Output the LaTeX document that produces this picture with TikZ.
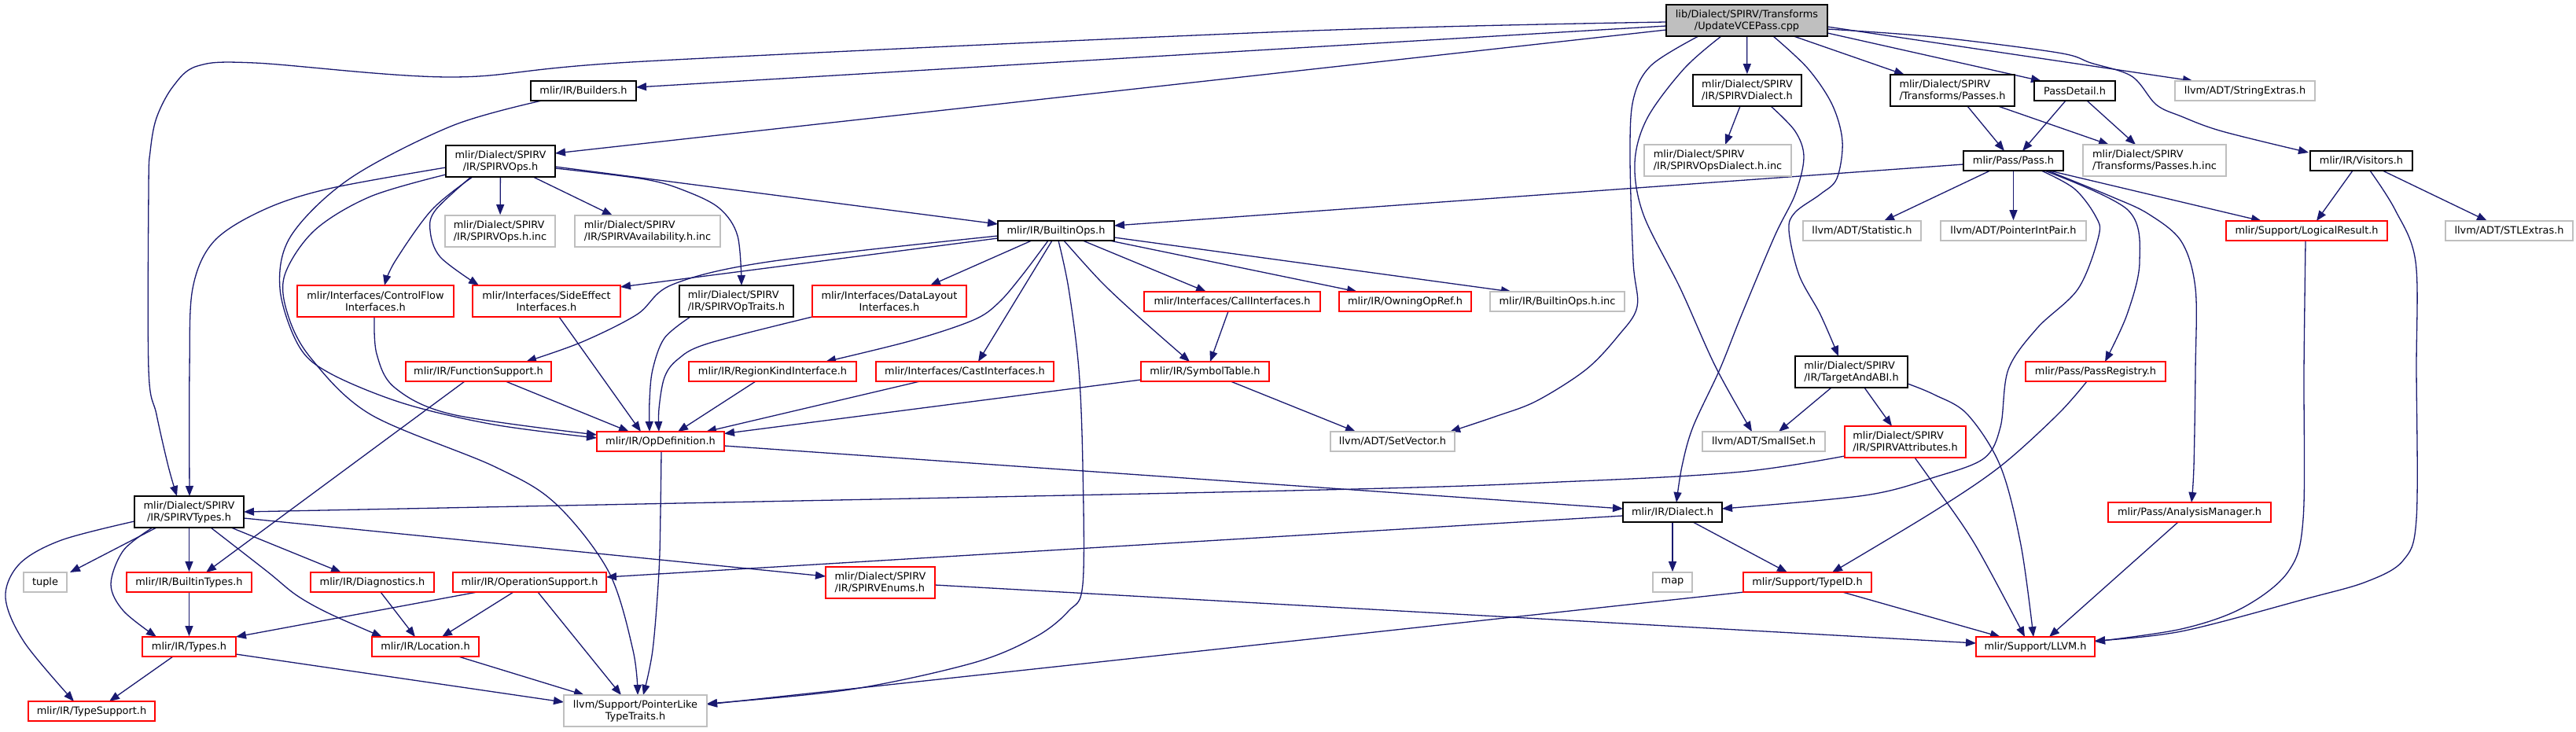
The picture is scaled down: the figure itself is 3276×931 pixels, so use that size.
\documentclass[tikz,border=0pt]{standalone}
\usepackage{fontspec}
\setmainfont{DejaVu Sans}
\usetikzlibrary{arrows.meta,calc}
\definecolor{edgec}{HTML}{191970}
\definecolor{boxred}{HTML}{FF0000}
\definecolor{boxgray}{HTML}{BFBFBF}
\pgfdeclarelayer{back}
\pgfdeclarelayer{edges}
\pgfsetlayers{back,edges,main}
\begin{document}
\begin{tikzpicture}[x=1pt,y=-1pt,
  box/.style={line width=1.7pt, inner sep=0pt, font=\fontsize{12.9}{15}\selectfont, text=black},
  nb/.style={box, draw=black, fill=white},
  nr/.style={box, draw=boxred, fill=white},
  ng/.style={box, draw=boxgray, fill=white},
  nroot/.style={box, draw=black, fill=boxgray},
  sz/.style 2 args={minimum width=#1pt, minimum height=#2pt},
  edge/.style={draw=edgec, line width=1.3pt, -{Triangle[length=13pt,width=10pt]}},
  sm/.style={smooth, tension=0.55}
]
\begin{pgfonlayer}{back}
\fill[white] (0,0) rectangle (3276,931);
\end{pgfonlayer}
\useasboundingbox (0,0) rectangle (3276,931);

% nodes
\node[nroot,sz={205}{40},align=center] (root) at (2221.5,26) {lib/Dialect/SPIRV/Transforms\\/UpdateVCEPass.cpp};
\node[nb,sz={134}{25}] (builders) at (742,115.5) {mlir/IR/Builders.h};
\node[nb,sz={139}{40},align=center] (spirvops) at (636.5,205) {mlir/Dialect/SPIRV\\/IR/SPIRVOps.h};
\node[ng,sz={140}{40},align=left] (opsinc) at (636,294) {mlir/Dialect/SPIRV\\/IR/SPIRVOps.h.inc};
\node[ng,sz={185}{40},align=left] (avail) at (823.5,294) {mlir/Dialect/SPIRV\\/IR/SPIRVAvailability.h.inc};
\node[nr,sz={199}{40},align=center] (controlflow) at (477.5,383) {mlir/Interfaces/ControlFlow\\Interfaces.h};
\node[nr,sz={188}{40},align=center] (sideeffect) at (695,383) {mlir/Interfaces/SideEffect\\Interfaces.h};
\node[nr,sz={185}{25}] (funcsupport) at (608.5,472.5) {mlir/IR/FunctionSupport.h};
\node[nb,sz={148}{25}] (builtinops) at (1343,293.5) {mlir/IR/BuiltinOps.h};
\node[nb,sz={145}{40},align=left] (optraits) at (936.5,383) {mlir/Dialect/SPIRV\\/IR/SPIRVOpTraits.h};
\node[nr,sz={196}{40},align=center] (datalayout) at (1131,383) {mlir/Interfaces/DataLayout\\Interfaces.h};
\node[nr,sz={224}{25}] (callif) at (1567,383.5) {mlir/Interfaces/CallInterfaces.h};
\node[nr,sz={213}{25}] (regionkind) at (982.5,472.5) {mlir/IR/RegionKindInterface.h};
\node[nr,sz={226}{25}] (castif) at (1227,472.5) {mlir/Interfaces/CastInterfaces.h};
\node[nr,sz={163}{25}] (symtab) at (1532.5,472.5) {mlir/IR/SymbolTable.h};
\node[nr,sz={162}{25}] (opdef) at (840,561.5) {mlir/IR/OpDefinition.h};
\node[nb,sz={138}{40},align=left] (spirvdialect) at (2222,115) {mlir/Dialect/SPIRV\\/IR/SPIRVDialect.h};
\node[ng,sz={187}{40},align=left] (opsdialectinc) at (2184.5,204) {mlir/Dialect/SPIRV\\/IR/SPIRVOpsDialect.h.inc};
\node[nb,sz={158}{40},align=left] (passes) at (2483,115) {mlir/Dialect/SPIRV\\/Transforms/Passes.h};
\node[nr,sz={168}{25}] (owning) at (1787,383.5) {mlir/IR/OwningOpRef.h};
\node[ng,sz={171}{25}] (builtinopsinc) at (1980.5,383.5) {mlir/IR/BuiltinOps.h.inc};
\node[ng,sz={150}{25}] (statistic) at (2368,293.5) {llvm/ADT/Statistic.h};
\node[nb,sz={143}{40},align=left] (targetabi) at (2354.5,473) {mlir/Dialect/SPIRV\\/IR/TargetAndABI.h};
\node[nb,sz={103}{25}] (passdetail) at (2638.5,115.5) {PassDetail.h};
\node[ng,sz={178}{25}] (stringextras) at (2855,115.5) {llvm/ADT/StringExtras.h};
\node[nb,sz={127}{25}] (pass) at (2560.5,204.5) {mlir/Pass/Pass.h};
\node[ng,sz={182}{40},align=left] (passesinc) at (2740,204) {mlir/Dialect/SPIRV\\/Transforms/Passes.h.inc};
\node[nb,sz={130}{25}] (visitors) at (3003,204.5) {mlir/IR/Visitors.h};
\node[ng,sz={185}{25}] (ptrintpair) at (2560.5,293.5) {llvm/ADT/PointerIntPair.h};
\node[nr,sz={205}{25}] (logicalresult) at (2933.5,293.5) {mlir/Support/LogicalResult.h};
\node[ng,sz={162}{25}] (stlextras) at (3191,293.5) {llvm/ADT/STLExtras.h};
\node[nr,sz={178}{25}] (passregistry) at (2665,472.5) {mlir/Pass/PassRegistry.h};
\node[nb,sz={139}{40},align=center] (spirvtypes) at (240.5,651) {mlir/Dialect/SPIRV\\/IR/SPIRVTypes.h};
\node[ng,sz={55}{25}] (tuple) at (57.5,740.5) {tuple};
\node[nr,sz={159}{25}] (builtintypes) at (240.5,740.5) {mlir/IR/BuiltinTypes.h};
\node[nr,sz={157}{25}] (diagnostics) at (473.5,740.5) {mlir/IR/Diagnostics.h};
\node[nr,sz={195}{25}] (opsupport) at (673.5,740.5) {mlir/IR/OperationSupport.h};
\node[nr,sz={119}{25}] (types) at (240.5,822.5) {mlir/IR/Types.h};
\node[nr,sz={136}{25}] (location) at (541,822.5) {mlir/IR/Location.h};
\node[nr,sz={161}{25}] (typesupport) at (116.5,904.5) {mlir/IR/TypeSupport.h};
\node[ng,sz={182}{40},align=center] (pointerlike) at (808,904) {llvm/Support/PointerLike\\TypeTraits.h};
\node[nr,sz={139}{40},align=left] (spirvenums) at (1119.5,741) {mlir/Dialect/SPIRV\\/IR/SPIRVEnums.h};
\node[ng,sz={158}{25}] (setvector) at (1771,561.5) {llvm/ADT/SetVector.h};
\node[ng,sz={156}{25}] (smallset) at (2243,561.5) {llvm/ADT/SmallSet.h};
\node[nr,sz={154}{40},align=left] (spirvattr) at (2423,562) {mlir/Dialect/SPIRV\\/IR/SPIRVAttributes.h};
\node[nb,sz={126}{25}] (dialect) at (2127,651.5) {mlir/IR/Dialect.h};
\node[ng,sz={50}{25}] (map) at (2127,740.5) {map};
\node[nr,sz={163}{25}] (typeid) at (2298.5,740.5) {mlir/Support/TypeID.h};
\node[nr,sz={207}{25}] (analysis) at (2784.5,651.5) {mlir/Pass/AnalysisManager.h};
\node[nr,sz={151}{25}] (llvm) at (2588.5,822.5) {mlir/Support/LLVM.h};

\begin{pgfonlayer}{edges}
% root
\draw[edge] plot[sm] coordinates {($(root)+(-102.5,2)$) (1640,40) (820,78) (575,98) (324,80) (251,84) (220,110) (199,150) (191,193) (189,240) (189,470) (199,527) (214,593) ($(spirvtypes)+(-15.5,-20)$)};
\draw[edge] ($(root)+(-102.5,7)$) -- ($(builders)+(67,-4.5)$);
\draw[edge] ($(root)+(-102.5,12)$) -- ($(spirvops)+(69.5,-10)$);
\draw[edge] (root) -- (spirvdialect);
\draw[edge] ($(root)+(59.5,20)$) -- ($(passes)+(-61,-20)$);
\draw[edge] ($(root)+(102.5,16)$) -- ($(passdetail)+(-42.5,-12.5)$);
\draw[edge] ($(root)+(102.5,8)$) -- ($(stringextras)+(-66,-12.5)$);
\draw[edge] plot[sm] coordinates {($(root)+(102.5,11)$) (2460,47) (2617,67) (2659,80) (2711,97) (2742,133) (2774,148) (2826,167) ($(visitors)+(-67,-10.5)$)};
\draw[edge] plot[sm] coordinates {($(root)+(-61.5,20)$) (2100,83) (2077,127) (2073,200) (2077,333) (2082,390) (2058,427) (2017,470) (1954,510) (1901,530) ($(setvector)+(73,-12.5)$)};
\draw[edge] plot[sm] coordinates {($(root)+(-32.5,20)$) (2142,87) (2095,150) (2079,207) (2090,273) (2137,367) (2182,467) ($(smallset)+(-15,-12.5)$)};
\draw[edge] plot[sm] coordinates {($(root)+(33.5,20)$) (2299,87) (2330,133) (2343,180) (2336,227) (2315,247) (2283,270) (2275,293) (2288,350) (2315,400) ($(targetabi)+(-16.5,-20)$)};
% spirvdialect
\draw[edge] ($(spirvdialect)+(-9,20)$) -- ($(opsdialectinc)+(9.5,-20)$);
\draw[edge] plot[sm] coordinates {($(spirvdialect)+(30,20)$) (2283,167) (2294,200) (2283,247) (2257,300) (2215,400) (2187,470) (2153,543) (2139,593) ($(dialect)+(5,-12.5)$)};
% passes, passdetail
\draw[edge] ($(passes)+(19,20)$) -- ($(pass)+(-11.5,-12.5)$);
\draw[edge] ($(passes)+(58,20)$) -- ($(passesinc)+(-58,-20)$);
\draw[edge] ($(passdetail)+(-11.5,12.5)$) -- ($(pass)+(11.5,-12.5)$);
\draw[edge] ($(passdetail)+(15.5,12.5)$) -- ($(passesinc)+(-24,-20)$);
% pass
\draw[edge] ($(pass)+(-63.5,4.5)$) -- ($(builtinops)+(74,-6.5)$);
\draw[edge] ($(pass)+(-29.5,12.5)$) -- ($(statistic)+(28,-12.5)$);
\draw[edge] (pass) -- (ptrintpair);
\draw[edge] ($(pass)+(45.5,12.5)$) -- ($(logicalresult)+(-57.5,-12.5)$);
\draw[edge] plot[sm] coordinates {($(pass)+(35.5,12.5)$) (2638,240) (2665,275) (2669,300) (2643,367) (2591,417) (2554,470) (2544,543) (2523,583) (2460,607) (2372,630) ($(dialect)+(63,-4.5)$)};
\draw[edge] plot[sm] coordinates {($(pass)+(39.5,12.5)$) (2706,267) (2721,333) (2705,400) ($(passregistry)+(12,-12.5)$)};
\draw[edge] plot[sm] coordinates {($(pass)+(43.5,12.5)$) (2685,250) (2732,272) (2774,307) (2792,367) (2792,470) (2790,593) ($(analysis)+(2.5,-12.5)$)};
% visitors, logicalresult
\draw[edge] ($(visitors)+(-11,12.5)$) -- ($(logicalresult)+(12.5,-12.5)$);
\draw[edge] ($(visitors)+(27,12.5)$) -- ($(stlextras)+(-28,-12.5)$);
\draw[edge] plot[sm] coordinates {($(visitors)+(11,12.5)$) (3046,267) (3072,333) (3073,470) (3073,660) (3056,713) (3009,740) (2931,762) (2774,803) ($(llvm)+(75.5,-7.5)$)};
\draw[edge] plot[sm] coordinates {($(logicalresult)+(-1.5,12.5)$) (2930,470) (2929,660) (2910,727) (2852,773) (2774,800) ($(llvm)+(75.5,-6.5)$)};
% passregistry, analysis
\draw[edge] plot[sm] coordinates {($(passregistry)+(-11,12.5)$) (2617,527) (2544,593) (2460,650) ($(typeid)+(31.5,-12.5)$)};
\draw[edge] ($(analysis)+(-14.5,12.5)$) -- ($(llvm)+(17.5,-12.5)$);
% targetabi, spirvattr
\draw[edge] ($(targetabi)+(-25.5,20)$) -- ($(smallset)+(19,-12.5)$);
\draw[edge] ($(targetabi)+(16.5,20)$) -- ($(spirvattr)+(-17,-20)$);
\draw[edge] plot[sm] coordinates {($(targetabi)+(71.5,15)$) (2460,502) (2502,527) (2544,593) (2570,693) ($(llvm)+(-2.5,-12.5)$)};
\draw[edge] plot[sm] coordinates {($(spirvattr)+(12,20)$) (2460,617) (2512,693) ($(llvm)+(-13.5,-12.5)$)};
\draw[edge] plot[sm] coordinates {($(spirvattr)+(-77,18)$) (2215,600) (2006,612) (1640,624) ($(spirvtypes)+(69.5,0)$)};
% dialect
\draw[edge] (dialect) -- (map);
\draw[edge] ($(dialect)+(26,12.5)$) -- ($(typeid)+(-25.5,-12.5)$);
\draw[edge] ($(dialect)+(-63,4.5)$) -- ($(opsupport)+(97.5,-6.5)$);
% opdef
\draw[edge] ($(opdef)+(81,5.5)$) -- ($(dialect)+(-63,-4.5)$);
\draw[edge] plot[sm] coordinates {($(opdef)+(1,12.5)$) (840,650) (838,727) (830,827) ($(pointerlike)+(10,-20)$)};
% typeid, spirvenums
\draw[edge] ($(typeid)+(44.5,12.5)$) -- ($(llvm)+(-44.5,-12.5)$);
\draw[edge] ($(typeid)+(-80.5,12.5)$) -- ($(pointerlike)+(91,-8)$);
\draw[edge] ($(spirvenums)+(69.5,3)$) -- ($(llvm)+(-75.5,-4.5)$);
% builtinops
\draw[edge] plot[sm] coordinates {($(builtinops)+(3,12.5)$) (1359,367) (1372,470) (1377,593) (1377,743) (1359,777) (1317,810) (1238,843) (1081,877) ($(pointerlike)+(91,-9)$)};
\draw[edge] ($(builtinops)+(34,12.5)$) -- ($(callif)+(-33,-12.5)$);
\draw[edge] plot[sm] coordinates {($(builtinops)+(10,12.5)$) (1400,358) (1448,403) ($(symtab)+(-19.5,-12.5)$)};
\draw[edge] ($(builtinops)+(-5,12.5)$) -- ($(castif)+(17,-12.5)$);
\draw[edge] plot[sm] coordinates {($(builtinops)+(-10,12.5)$) (1300,350) (1270,385) (1238,407) (1160,433) ($(regionkind)+(67.5,-12.5)$)};
\draw[edge] ($(builtinops)+(-31,12.5)$) -- ($(datalayout)+(52,-20)$);
\draw[edge] ($(builtinops)+(68,12.5)$) -- ($(owning)+(-61,-12.5)$);
\draw[edge] ($(builtinops)+(74,8.5)$) -- ($(builtinopsinc)+(-58.5,-12.5)$);
\draw[edge] ($(builtinops)+(-74,9.5)$) -- ($(sideeffect)+(94,-18)$);
\draw[edge] plot[sm] coordinates {($(builtinops)+(-74,6.5)$) (977,333) (855,362) (810,400) (740,435) ($(funcsupport)+(60.5,-12.5)$)};
% symtab, castif, regionkind, callif
\draw[edge] ($(symtab)+(32.5,12.5)$) -- ($(setvector)+(-47,-12.5)$);
\draw[edge] ($(symtab)+(-81.5,10.5)$) -- ($(opdef)+(81,-10)$);
\draw[edge] ($(castif)+(-57,12.5)$) -- ($(opdef)+(58,-12.5)$);
\draw[edge] ($(regionkind)+(-21.5,12.5)$) -- ($(opdef)+(22,-12.5)$);
\draw[edge] ($(callif)+(-5,12.5)$) -- ($(symtab)+(6.5,-12.5)$);
% spirvops
\draw[edge] ($(spirvops)+(69.5,7)$) -- ($(builtinops)+(-74,-8.5)$);
\draw[edge] plot[sm] coordinates {($(spirvops)+(69.5,9)$) (820,228) (872,243) (915,265) (938,300) ($(optraits)+(6.5,-20)$)};
\draw[edge] (spirvops) -- (opsinc);
\draw[edge] ($(spirvops)+(41.5,20)$) -- ($(avail)+(-44.5,-20)$);
\draw[edge] plot[sm] coordinates {($(spirvops)+(-35.5,20)$) (549,267) (502,333) ($(controlflow)+(11.5,-20)$)};
\draw[edge] plot[sm] coordinates {($(spirvops)+(-37.5,20)$) (554,267) (547,293) (560,327) ($(sideeffect)+(-86,-20)$)};
\draw[edge] plot[sm] coordinates {($(spirvops)+(-69.5,8)$) (418,240) (335,267) (272,307) (245,367) (241,470) ($(spirvtypes)+(0.5,-20)$)};
\draw[edge] plot[sm] coordinates {($(spirvops)+(-69.5,17)$) (471,250) (400,293) (362,350) (366,400) (395,455) (471,527) (628,593) (706,640) (774,727) (805,827) ($(pointerlike)+(3,-20)$)};
% builders
\draw[edge] plot[sm] coordinates {($(builders)+(-53,12.5)$) (575,160) (445,227) (370,300) (356,367) (380,440) (420,475) (513,513) (628,540) ($(opdef)+(-81,-4.5)$)};
% controlflow, sideeffect, funcsupport, optraits, datalayout
\draw[edge] plot[sm] coordinates {($(controlflow)+(-1.5,20)$) (479,450) (502,493) (575,527) ($(opdef)+(-81,-8.5)$)};
\draw[edge] ($(sideeffect)+(16,20)$) -- ($(opdef)+(-25,-12.5)$);
\draw[edge] ($(funcsupport)+(34.5,12.5)$) -- ($(opdef)+(-40,-12.5)$);
\draw[edge] ($(funcsupport)+(-17.5,12.5)$) -- ($(builtintypes)+(21.5,-12.5)$);
\draw[edge] plot[sm] coordinates {($(optraits)+(-58.5,20)$) (845,430) (830,470) (826,510) ($(opdef)+(-14,-12.5)$)};
\draw[edge] plot[sm] coordinates {($(datalayout)+(-98,20)$) (900,437) (862,457) (845,480) (838,520) ($(opdef)+(-2,-12.5)$)};
% spirvtypes
\draw[edge] (builtintypes) -- (types);
\draw[edge] ($(spirvtypes)+(-41.5,20)$) -- ($(tuple)+(31.5,-12.5)$);
\draw[edge] (spirvtypes) -- (builtintypes);
\draw[edge] plot[sm] coordinates {($(spirvtypes)+(-46.5,20)$) (157,700) (141,743) (157,777) ($(types)+(-41.5,-12.5)$)};
\draw[edge] plot[sm] coordinates {($(spirvtypes)+(-69.5,12)$) (78,687) (25,717) (7,760) (31,817) ($(typesupport)+(-22.5,-12.5)$)};
\draw[edge] plot[sm] coordinates {($(spirvtypes)+(27.5,20)$) (340,727) (377,757) (418,780) ($(location)+(-55,-12.5)$)};
\draw[edge] ($(spirvtypes)+(53.5,20)$) -- ($(diagnostics)+(-39.5,-12.5)$);
\draw[edge] ($(spirvtypes)+(69.5,8)$) -- ($(spirvenums)+(-69.5,-8)$);
% lower
\draw[edge] ($(diagnostics)+(10.5,12.5)$) -- ($(location)+(-13,-12.5)$);
\draw[edge] ($(opsupport)+(-66.5,12.5)$) -- ($(types)+(59.5,-12.5)$);
\draw[edge] ($(opsupport)+(-20.5,12.5)$) -- ($(location)+(21,-12.5)$);
\draw[edge] ($(opsupport)+(10.5,12.5)$) -- ($(pointerlike)+(-18,-20)$);
\draw[edge] ($(types)+(-20.5,12.5)$) -- ($(typesupport)+(22.5,-12.5)$);
\draw[edge] ($(types)+(59.5,9.5)$) -- ($(pointerlike)+(-91,-11)$);
\draw[edge] ($(location)+(42,12.5)$) -- ($(pointerlike)+(-65,-20)$);
\end{pgfonlayer}
\end{tikzpicture}
\end{document}
